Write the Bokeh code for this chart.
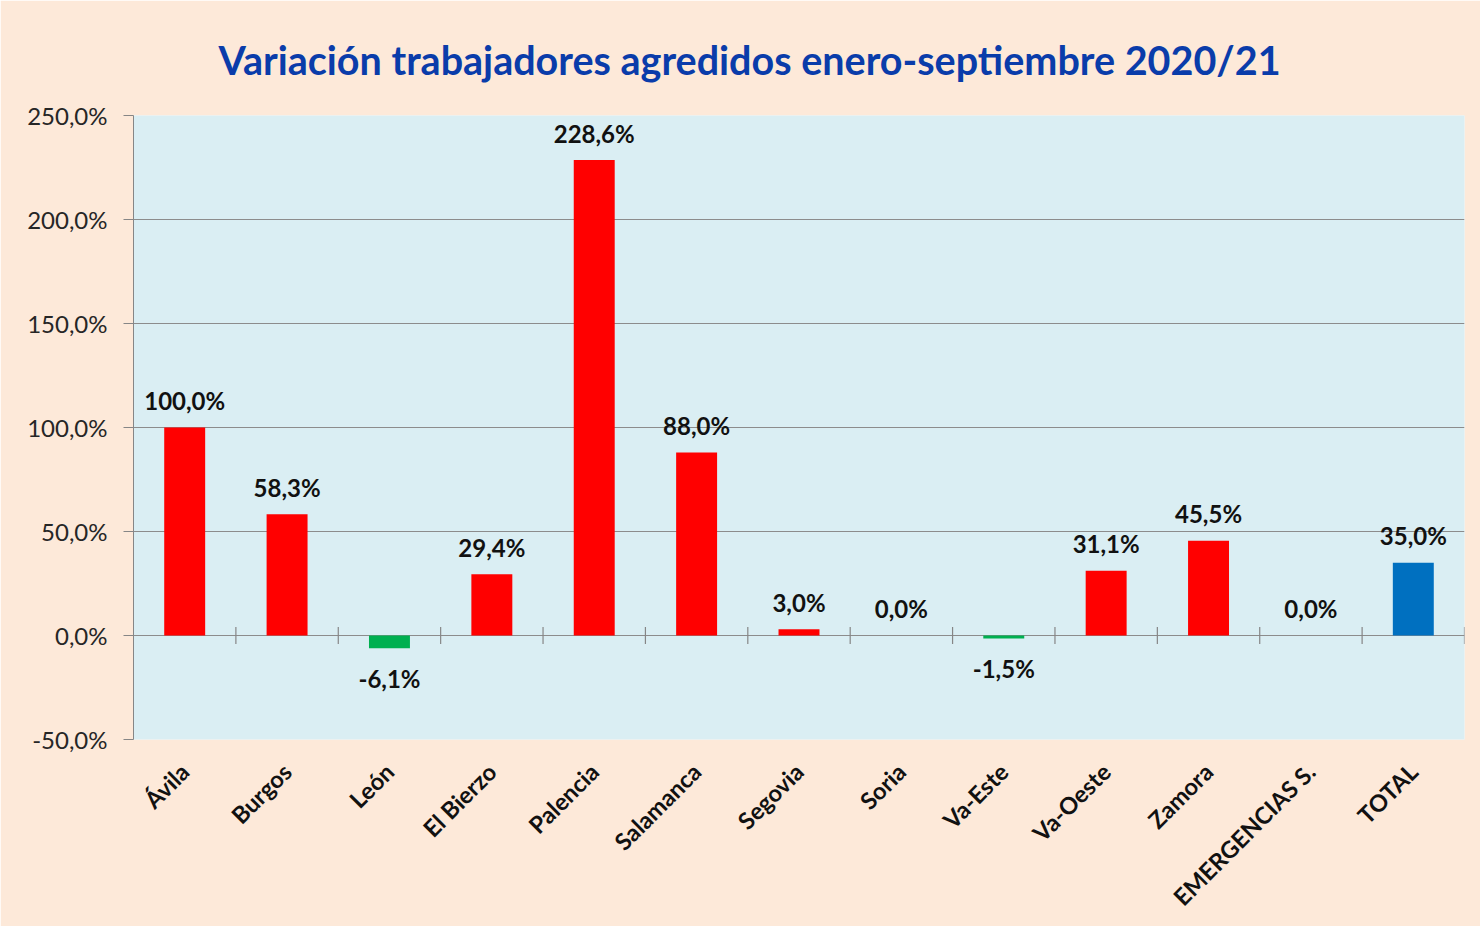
import math
from bokeh.plotting import figure
from bokeh.models import (Range1d, FixedTicker, ColumnDataSource, Title)
from bokeh.core.properties import value
from bokeh.embed import file_html
from bokeh.resources import INLINE

categories = ["Ávila", "Burgos", "León", "El Bierzo", "Palencia", "Salamanca",
              "Segovia", "Soria", "Va-Este", "Va-Oeste", "Zamora",
              "EMERGENCIAS S.", "TOTAL"]
variation = [100.0, 58.3, -6.1, 29.4, 228.6, 88.0, 3.0, 0.0, -1.5, 31.1, 45.5, 0.0, 35.0]
y_ticks = [-50, 0, 50, 100, 150, 200, 250]
title_text = "Variación trabajadores agredidos enero-septiembre 2020/21"

RED, GREEN, BLUE = "#FF0000", "#00B050", "#0070C0"
FONT = "Lato"

def pct(v):
    return f"{v:.1f}".replace(".", ",") + "%"

n = len(categories)
centers = [i + 0.5 for i in range(n)]
colors = [BLUE if c == "TOTAL" else (GREEN if v < 0 else RED)
          for c, v in zip(categories, variation)]
label_off = [30 if v < 0 else -27 for v in variation]

src = ColumnDataSource(dict(x=centers, top=variation, color=colors,
                            label=[pct(v) for v in variation], off=label_off))

p = figure(width=1480, height=926, output_backend="svg", toolbar_location=None,
           x_range=Range1d(0, n), y_range=Range1d(-50, 250),
           min_border_left=133, min_border_right=16, min_border_top=115,
           min_border_bottom=187)
p.background_fill_color = "#DAEEF3"
p.border_fill_color = "#FDE9D9"
p.outline_line_color = None

p.vbar(x="x", top="top", bottom=0, width=0.4, fill_color="color",
       line_color=None, source=src)

p.text(x="x", y="top", text="label", y_offset="off", source=src,
       text_align="center", text_baseline="middle",
       text_font=value(FONT), text_font_style="bold", text_font_size="24px",
       text_color="#111111")

# category boundary ticks on zero line
bounds = list(range(1, n + 1))
p.scatter(x=bounds, y=[0] * len(bounds), marker="dash", angle=math.pi / 2,
          size=17, line_color="#868686", line_width=1.2)

# y axis
ya = p.yaxis[0]
ya.ticker = FixedTicker(ticks=y_ticks)
ya.major_label_overrides = {t: pct(t) for t in y_ticks}
ya.major_tick_in = 0
ya.major_tick_out = 10
ya.minor_tick_line_color = None
ya.axis_line_color = "#868686"
ya.major_tick_line_color = "#868686"
ya.major_label_text_font = FONT
ya.major_label_text_font_size = "24px"
ya.major_label_text_color = "#262626"
ya.major_label_standoff = 16

# x axis
xa = p.xaxis[0]
xa.ticker = FixedTicker(ticks=centers)
xa.major_label_overrides = {c: name for c, name in zip(centers, categories)}
xa.major_label_orientation = math.pi / 4
xa.axis_line_color = None
xa.major_tick_line_color = None
xa.minor_tick_line_color = None
xa.major_label_text_font = FONT
xa.major_label_text_font_style = "bold"
xa.major_label_text_font_size = "23.5px"
xa.major_label_text_color = "#111111"
xa.major_label_standoff = 22

p.xgrid.grid_line_color = None
p.ygrid.ticker = FixedTicker(ticks=y_ticks)
p.ygrid.grid_line_color = "#8C8C8C"

t = Title(text=title_text, text_font=FONT, text_font_style="bold",
          text_font_size="39.5px", text_color="#0A3CAA", align="left", offset=85,
          standoff=66)
p.add_layout(t, "above")

open("out.html", "w").write(file_html(p, INLINE))
